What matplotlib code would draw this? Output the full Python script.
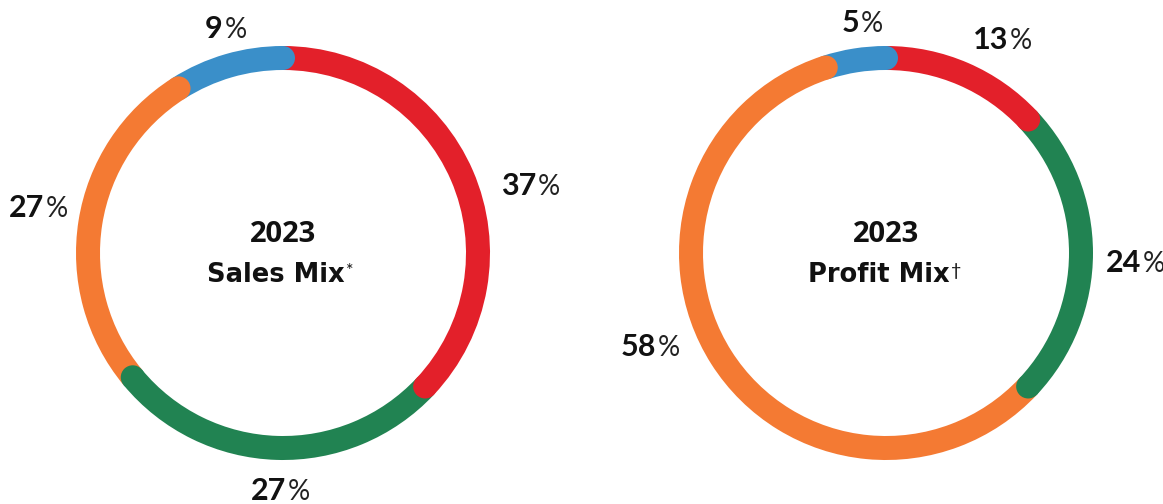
import numpy as np
import matplotlib.pyplot as plt
from matplotlib.patches import Wedge, Circle

# data
segments = ["Segment A", "Segment B", "Segment C", "Segment D"]
colors = ["#E3202A", "#218352", "#F47A33", "#3A8FC9"]
sales_mix = [37, 27, 27, 9]
profit_mix = [13, 24, 58, 5]
year = "2023"

plt.rcParams['font.family'] = ['Lato', 'DejaVu Sans']

fig = plt.figure(figsize=(11.63, 5.04), dpi=100)
ax = fig.add_axes([0, 0, 1, 1])
ax.set_xlim(0, 1163)
ax.set_ylim(504, 0)
ax.set_aspect('equal')
ax.axis('off')

R_OUT = 207
W = 24


def ring(cx, cy, values, label_pos, title, mark):
    total = float(sum(values))
    start = 90.0
    ends = []
    for v, c in zip(values, colors):
        end = start - 360.0 * v / total
        # y axis is inverted, so flip angles for screen clockwise
        ax.add_patch(Wedge((cx, cy), R_OUT, -start, -end, width=W, color=c, lw=0))
        ends.append((end, c))
        start = end
    rm = R_OUT - W / 2
    for end, c in ends:
        a = np.radians(end)
        ax.add_patch(Circle((cx + rm * np.cos(a), cy - rm * np.sin(a)), W / 2, color=c, lw=0))
    for v, (x, y) in zip(values, label_pos):
        ax.text(x, y, str(v), ha='right', va='baseline', fontsize=22,
                fontweight='bold', color='#111111')
        ax.text(x + 2, y, '%', ha='left', va='baseline', fontsize=20,
                fontweight='normal', color='#222222')
    ax.text(cx, cy - 18, year, ha='center', va='center', fontsize=21,
            fontweight='bold', color='#111111', family=['Open Sans', 'DejaVu Sans'])
    t = ax.text(cx - 7, cy + 22, title, ha='center', va='center', fontsize=18.5,
                fontweight='bold', color='#111111', family=['DejaVu Sans'])
    ax.annotate(mark, xy=(1, 1), xycoords=t, xytext=(1, -1), textcoords='offset points',
                ha='left', va='top', fontsize=13, color='#111111')


ring(283, 253, sales_mix, [(536, 195), (286, 500), (44, 217), (223, 38)],
     "Sales Mix", "*")
ring(886, 253, profit_mix, [(1008, 49), (1141, 272), (656, 356), (859, 32)],
     "Profit Mix", "\u2020")

fig.savefig('out.png', dpi=100)
